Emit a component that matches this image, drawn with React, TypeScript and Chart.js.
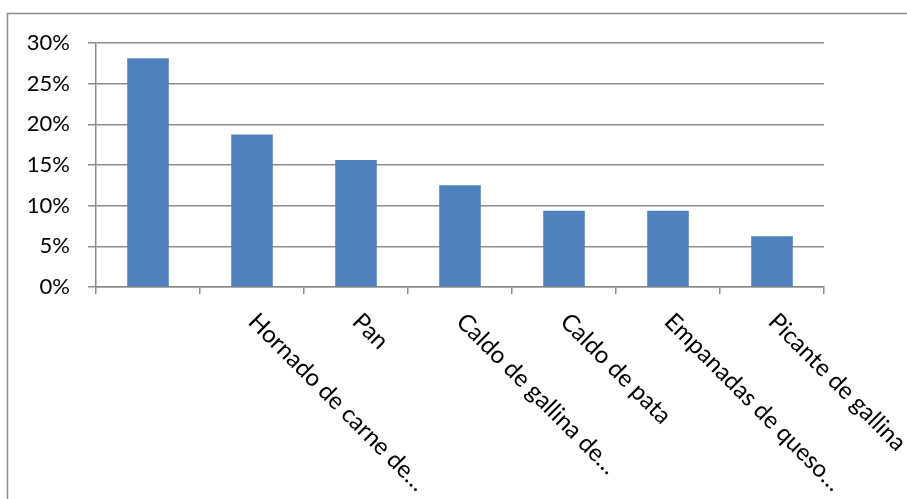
import React, { useEffect, useRef } from "react";
import { Chart, registerables } from "chart.js";

Chart.register(...registerables);

const categories = [
  "",
  "Hornado de carne de…",
  "Pan",
  "Caldo de gallina de…",
  "Caldo de pata",
  "Empanadas de queso…",
  "Picante de gallina",
];
const shares = [0.28125, 0.1875, 0.15625, 0.125, 0.09375, 0.09375, 0.0625];
const yMin = 0;
const yMax = 0.3;
const yStep = 0.05;

const FONT = "Lato, 'Open Sans', sans-serif";
const GRID = "#8a8a8a";

const frame = {
  id: "frame",
  beforeDraw(chart: any) {
    const ctx = chart.ctx;
    ctx.save();
    ctx.fillStyle = "#ffffff";
    ctx.fillRect(0, 0, chart.width, chart.height);
    ctx.strokeStyle = "#8c8c8c";
    ctx.lineWidth = 1.5;
    ctx.strokeRect(7.5, 13.5, 2000, 2000);
    ctx.restore();
  },
};

const slantLabels = {
  id: "slantLabels",
  afterDraw(chart: any) {
    const ctx = chart.ctx;
    const xs = chart.scales.x;
    ctx.save();
    ctx.fillStyle = "#000000";
    ctx.font = `24px ${FONT}`;
    ctx.textAlign = "left";
    ctx.textBaseline = "alphabetic";
    categories.forEach((label, i) => {
      if (!label) return;
      const x = xs.getPixelForTick(i) - 5;
      const y = xs.top + 36;
      ctx.save();
      ctx.translate(x, y);
      ctx.rotate(Math.PI / 4);
      ctx.fillText(label, 0, 0);
      ctx.restore();
    });
    ctx.restore();
  },
};

export default function App() {
  const ref = useRef<HTMLCanvasElement | null>(null);
  useEffect(() => {
    if (!ref.current) return;
    const chart = new Chart(ref.current, {
      type: "bar",
      data: {
        labels: categories,
        datasets: [
          {
            data: shares,
            backgroundColor: "#4f81bd",
            borderWidth: 0,
            barPercentage: 0.4,
            categoryPercentage: 1,
          },
        ],
      },
      options: {
        animation: false,
        responsive: false,
        devicePixelRatio: 1,
        layout: { padding: { left: 0, top: 43, right: 83, bottom: 0 } },
        plugins: { legend: { display: false }, tooltip: { enabled: false } },
        scales: {
          x: {
            offset: true,
            grid: {
              display: true,
              offset: true,
              drawOnChartArea: false,
              drawTicks: true,
              tickLength: 7,
              color: GRID,
              lineWidth: 1.5,
            },
            border: { display: true, color: GRID, width: 1.5 },
            ticks: { display: false },
            afterFit: (s: any) => {
              s.height = 212;
            },
          },
          y: {
            min: yMin,
            max: yMax,
            ticks: {
              stepSize: yStep,
              padding: 18,
              color: "#000000",
              font: { family: FONT, size: 22 },
              callback: (v: any) => Math.round(Number(v) * 100) + "%",
            },
            grid: {
              color: GRID,
              lineWidth: 1.5,
              drawTicks: true,
              tickLength: 8,
            },
            border: { display: true, color: GRID, width: 1.5 },
            afterFit: (s: any) => {
              s.width = 96;
            },
          },
        },
      },
      plugins: [frame, slantLabels],
    });
    return () => chart.destroy();
  }, []);
  return (
    <div style={{ position: "fixed", left: 0, top: 0, width: 907, height: 499 }}>
      <canvas ref={ref} width={907} height={499} style={{ display: "block" }} />
    </div>
  );
}
